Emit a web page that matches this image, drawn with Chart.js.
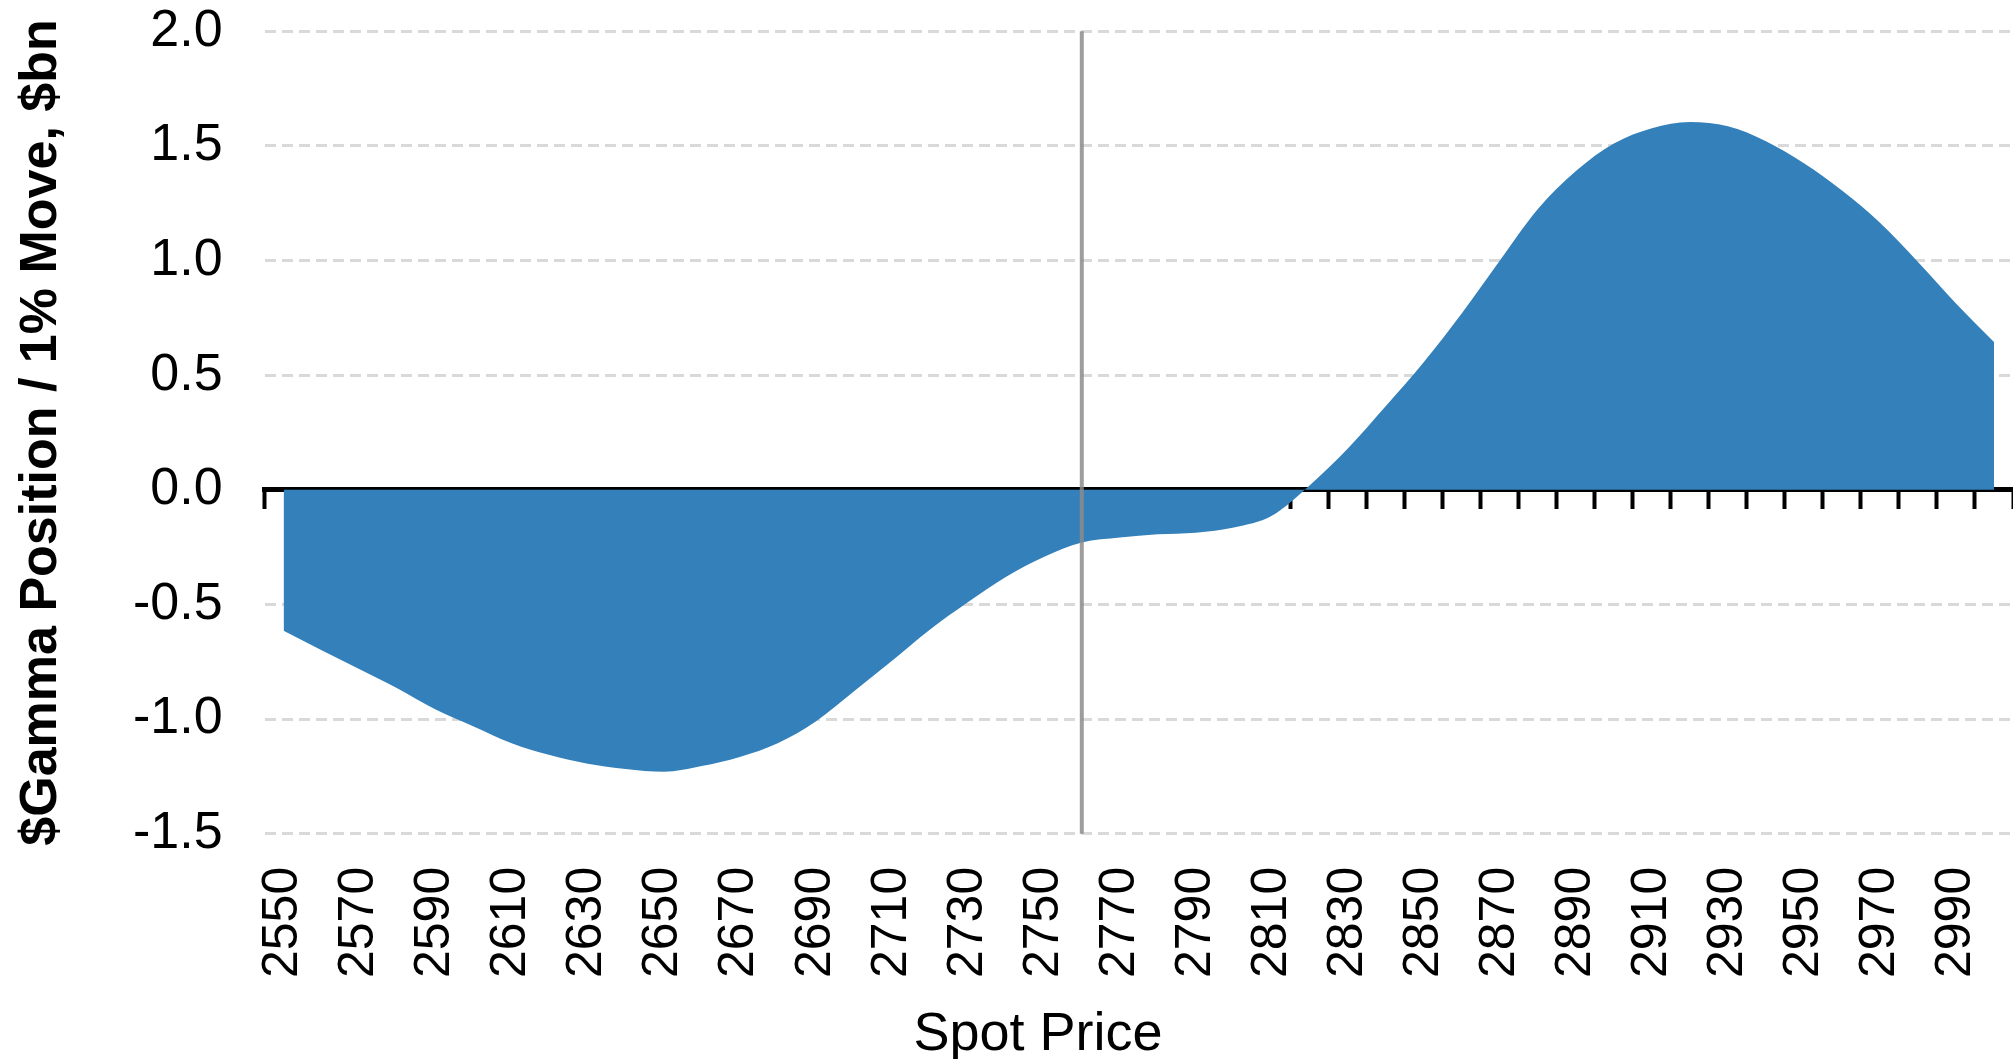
<!DOCTYPE html>
<html>
<head>
<meta charset="utf-8">
<title>$Gamma Position vs Spot Price</title>
<script src="https://cdn.jsdelivr.net/npm/chart.js@4.4.0/dist/chart.umd.min.js"></script>
<style>
    html, body { margin: 0; padding: 0; background: #fff; }
    #wrap { width: 2013px; height: 1059px; }
</style>
</head>
<body>
<div id="wrap"><canvas id="gammaChart" width="2013" height="1059"></canvas></div>
<script>
// Spot price categories (every 10), label shown on every other one
const spotPrices = [
    2550, 2560, 2570, 2580, 2590, 2600, 2610, 2620, 2630, 2640,
    2650, 2660, 2670, 2680, 2690, 2700, 2710, 2720, 2730, 2740,
    2750, 2760, 2770, 2780, 2790, 2800, 2810, 2820, 2830, 2840,
    2850, 2860, 2870, 2880, 2890, 2900, 2910, 2920, 2930, 2940,
    2950, 2960, 2970, 2980, 2990, 3000
];

// $Gamma position per 1% move, $bn
const gammaPosition = [
    -0.615, -0.700, -0.783, -0.866, -0.958, -1.032, -1.105, -1.157, -1.195, -1.218,
    -1.230, -1.205, -1.165, -1.105, -1.010, -0.880, -0.747, -0.610, -0.490, -0.380,
    -0.293, -0.230, -0.208, -0.194, -0.187, -0.164, -0.113, 0.020, 0.180, 0.365,
    0.557, 0.770, 1.000, 1.225, 1.390, 1.510, 1.577, 1.604, 1.585, 1.520,
    1.424, 1.305, 1.165, 0.994, 0.813, 0.645
];

const currentSpot = 2760;
const yMin = -1.5;
const yMax = 2.0;
const yStep = 0.5;

const FONT = "'Liberation Sans', Arial, sans-serif";

// vertical marker at the current spot + x axis title
const overlayPlugin = {
    id: 'overlay',
    afterDraw(chart) {
        const { ctx, chartArea } = chart;
        const xScale = chart.scales.x;
        const x = xScale.getPixelForValue(spotPrices.indexOf(currentSpot));
        ctx.save();
        ctx.strokeStyle = 'rgba(140,140,140,0.85)';
        ctx.lineWidth = 4;
        ctx.beginPath();
        ctx.moveTo(x, chartArea.top);
        ctx.lineTo(x, chartArea.bottom);
        ctx.stroke();

        // title sits a bit left of the plot centre, as in the source
        ctx.fillStyle = '#000';
        ctx.font = `54px ${FONT}`;
        ctx.textAlign = 'center';
        ctx.textBaseline = 'alphabetic';
        ctx.fillText('Spot Price', 1038, 1050);
        ctx.restore();
    }
};

const ctx = document.getElementById('gammaChart').getContext('2d');
new Chart(ctx, {
    type: 'line',
    data: {
        labels: spotPrices.map(String),
        datasets: [{
            label: '$Gamma Position',
            data: gammaPosition,
            backgroundColor: '#3380ba',
            borderWidth: 0,
            pointRadius: 0,
            fill: 'origin',
            cubicInterpolationMode: 'monotone',
            xAxisID: 'x'
        }]
    },
    options: {
        responsive: false,
        animation: false,
        devicePixelRatio: 1,
        layout: { padding: { top: 0, left: 0, right: 0, bottom: 81 } },
        plugins: {
            legend: { display: false },
            tooltip: { enabled: false }
        },
        scales: {
            // axis line on zero with the tick marks hanging down
            x: {
                type: 'category',
                position: { y: 0 },
                offset: true,
                z: 1,
                ticks: { display: false },
                grid: {
                    offset: true,
                    drawOnChartArea: false,
                    drawTicks: true,
                    tickLength: 17,
                    tickWidth: 4,
                    tickColor: '#000'
                },
                border: { color: '#000', width: 5 }
            },
            // labels along the bottom (transparent ticks give the gap)
            xb: {
                type: 'category',
                position: 'bottom',
                offset: true,
                grid: {
                    drawOnChartArea: false,
                    drawTicks: true,
                    tickLength: 33,
                    tickColor: 'rgba(0,0,0,0)'
                },
                border: { display: false },
                ticks: {
                    autoSkip: false,
                    minRotation: 90,
                    maxRotation: 90,
                    padding: 0,
                    color: '#000',
                    font: { family: FONT, size: 50, lineHeight: 0.3 },
                    callback: (val, idx) => (idx % 2 === 0 ? spotPrices[idx] : '')
                }
            },
            y: {
                min: yMin,
                max: yMax,
                ticks: {
                    stepSize: yStep,
                    padding: 0,
                    color: '#000',
                    font: { family: FONT, size: 52 },
                    callback: (v) => v.toFixed(1)
                },
                grid: {
                    color: (c) => (c.tick && c.tick.value === 0 ? 'rgba(0,0,0,0)' : '#d9d9d9'),
                    lineWidth: 3,
                    drawTicks: true,
                    tickLength: 42,
                    tickColor: 'rgba(0,0,0,0)'
                },
                border: { display: false, dash: [11, 6] },
                title: {
                    display: true,
                    text: '$Gamma Position / 1% Move, $bn',
                    color: '#000',
                    font: { family: FONT, size: 52, weight: 'bold', lineHeight: 1 },
                    padding: { top: 16, bottom: 65 }
                }
            }
        }
    },
    plugins: [overlayPlugin]
});
</script>
</body>
</html>
